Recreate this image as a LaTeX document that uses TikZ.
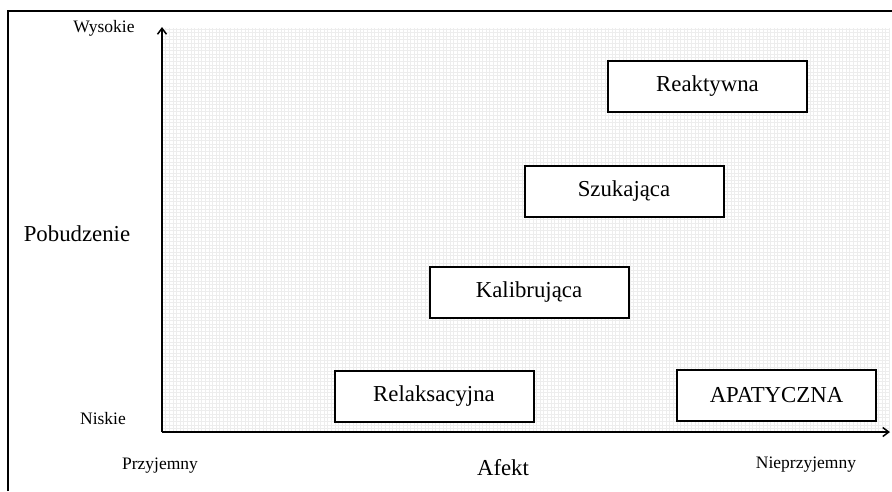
\documentclass[tikz,border=0pt]{standalone}
\usepackage{fontspec}
\setmainfont{Liberation Serif}
\usetikzlibrary{arrows.meta}
\begin{document}
\begin{tikzpicture}[x=1pt,y=-1pt,
  stanbox/.style={draw=black,line width=2pt,fill=white,minimum width=199pt,minimum height=51pt,inner sep=0pt,font=\fontsize{22.8}{26}\selectfont},
  biglabel/.style={font=\fontsize{22.8}{26}\selectfont,inner sep=0pt},
  smalllabel/.style={font=\fontsize{17.5}{20}\selectfont,inner sep=0pt},
  axis/.style={line width=1.8pt,-{Straight Barb[length=6pt,width=9pt,line width=1.5pt]}}]
\useasboundingbox (0,0) rectangle (892,491);
\fill[white] (0,0) rectangle (892,491);
% frame
\draw[line width=2pt] (8,491) -- (8,11) -- (892,11);
% grid background
\draw[gray!14,line width=0.45pt,step=3.6pt] (163,28) grid (890,431);
% axes
\coordinate (o) at (162,432);
\coordinate (ytop) at (162,27);
\coordinate (xend) at (890,432);
\draw[axis] (o) -- (ytop);
\draw[axis] (o) -- (xend);
% boxes
\node[stanbox] (reak) at (707.5,86.5) {Reaktywna};
\node[stanbox] (szuk) at (624,191) {Szukająca};
\node[stanbox] (kal) at (529,292.5) {Kalibrująca};
\node[stanbox] (rel) at (434,396) {Relaksacyjna};
\node[stanbox] (apat) at (776.5,395.5) {APATYCZNA};
% labels
\node[smalllabel] (wys) at (104,28) {Wysokie};
\node[smalllabel] (nis) at (103,419) {Niskie};
\node[biglabel] (pob) at (77,234) {Pobudzenie};
\node[smalllabel] (prz) at (160,466) {Przyjemny};
\node[biglabel] (afe) at (503,468) {Afekt};
\node[smalllabel] (nie) at (806,465) {Nieprzyjemny};
\end{tikzpicture}
\end{document}
